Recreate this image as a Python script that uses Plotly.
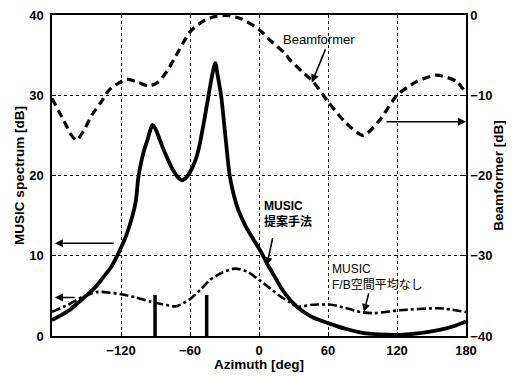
import plotly.graph_objects as go

# ---------------- data ----------------
music_az = [-180, -172, -165, -157, -148, -141, -135, -129, -124, -120, -115, -110, -107,
            -104.9, -102.5, -100.6, -97.1, -95, -92.8, -90, -86.1, -81.7, -76, -70, -67,
            -63, -60, -55, -52, -49, -46, -43.5, -41, -38, -36, -33, -30, -27.5, -25.5,
            -22, -18, -12, -6.4, 0, 3.5, 7, 12, 18, 22.6, 27, 33, 40, 47, 60, 75, 90,
            105, 122, 140, 157, 170, 180]
music_db = [2.0, 2.6, 3.2, 4.2, 5.3, 6.3, 7.4, 8.5, 9.8, 11.0, 12.7, 15.0, 16.9,
            19.8, 21.6, 22.8, 24.4, 25.4, 26.3, 25.8, 24.4, 22.8, 21.0, 19.7, 19.4,
            19.8, 20.4, 22.0, 23.6, 25.8, 28.2, 30.3, 32.3, 34.0, 32.5, 30.0, 26.0, 22.5, 20.0,
            17.6, 15.7, 13.8, 12.4, 10.9, 10.0, 9.0, 7.8, 6.3, 5.3, 4.5, 3.65, 2.9, 2.3, 1.6, 0.9, 0.4,
            0.2, 0.15, 0.35, 0.75, 1.25, 1.8]

nofb_az = [-180, -166, -153, -140, -130, -120, -107, -95, -84, -72, -60, -50, -42.6,
           -32, -21, -10, 0, 10, 20, 27, 33, 47, 63, 75, 88, 100, 122, 157, 180]
nofb_db = [3.0, 3.9, 4.9, 5.5, 5.4, 5.2, 4.8, 4.3, 3.95, 3.7, 4.6, 5.9, 7.0,
           7.9, 8.4, 8.0, 7.0, 5.9, 4.8, 4.2, 3.65, 3.9, 3.9, 3.5, 3.0, 2.85, 3.2, 3.45, 3.0]

beam_az = [-180, -170, -163, -158.6, -152, -145, -138, -130, -120, -115, -105, -96, -88,
           -80, -70, -60, -50, -40, -28, -15, 0, 10, 22.6, 27, 37, 47, 60, 76, 90.7,
           105, 120, 137, 154.5, 172, 180]
beam_db = [-10.4, -13.1, -15.0, -15.6, -14.3, -12.4, -11.0, -9.3, -8.3, -8.0, -8.4, -8.85, -8.4,
           -7.0, -4.5, -2.1, -0.9, -0.25, -0.05, -0.5, -1.8, -3.2, -4.8, -5.6, -7.0, -8.3, -10.8,
           -13.5, -15.0, -13.1, -10.0, -8.3, -7.5, -8.3, -9.8]

source_az = [-90.4, -45.5]
source_height = 5.1

x_ticks = [-120, -60, 0, 60, 120, 180]
y_ticks = [0, 10, 20, 30, 40]
y2_ticks = [0, -10, -20, -30, -40]

FONT = "Liberation Sans, Arial, sans-serif"
JP = "Liberation Sans, Noto Sans CJK JP"

fig = go.Figure()

# true source markers
sx, sy = [], []
for a in source_az:
    sx += [a, a, None]
    sy += [0, source_height, None]
fig.add_trace(go.Scatter(x=sx, y=sy, mode="lines",
                         line=dict(color="black", width=3.5), showlegend=False))

fig.add_trace(go.Scatter(x=nofb_az, y=nofb_db, mode="lines", line_shape="spline",
                         line=dict(color="black", width=2.6, dash="9px,3px,3px,3px", smoothing=0.7),
                         showlegend=False))
fig.add_trace(go.Scatter(x=music_az, y=music_db, mode="lines", line_shape="spline",
                         line=dict(color="black", width=3.8, smoothing=0.8), showlegend=False))
fig.add_trace(go.Scatter(x=beam_az, y=beam_db, mode="lines", line_shape="spline", yaxis="y2",
                         line=dict(color="black", width=3.2, dash="8px,5px", smoothing=0.7),
                         showlegend=False))

axis_common = dict(showline=True, linecolor="black", linewidth=1.5, ticks="inside",
                   ticklen=4, tickcolor="black", zeroline=False, automargin=False,
                   ticklabeloverflow="allow",
                   tickfont=dict(family=FONT, size=13, color="black", weight="bold"))
title_font = dict(family=FONT, size=13.5, color="black", weight="bold")

# the page body has an 8px default margin, so the figure is sized/margined to compensate
fig.update_layout(
    width=498, height=364,
    margin=dict(l=44, r=40, t=7, b=36),
    paper_bgcolor="white", plot_bgcolor="white",
    showlegend=False,
    xaxis=dict(range=[-180, 180], tickvals=x_ticks, mirror=True, ticklabelstandoff=2,
               showgrid=True, gridcolor="black", gridwidth=1, griddash="dot",
               title=dict(text="Azimuth [deg]", standoff=2, font=title_font),
               **axis_common),
    yaxis=dict(range=[0, 40], tickvals=y_ticks, mirror=True, ticklabelstandoff=4,
               showgrid=True, gridcolor="black", gridwidth=1, griddash="dot",
               title=dict(text="MUSIC spectrum [dB]", standoff=1, font=title_font),
               **axis_common),
    yaxis2=dict(range=[-40, 0], tickvals=y2_ticks, overlaying="y", side="right",
                showgrid=False, ticklabelstandoff=0,
                title=dict(text="Beamformer [dB]", standoff=8, font=title_font),
                **axis_common),
)

arrow = dict(showarrow=True, arrowhead=2, arrowsize=1, arrowwidth=1.6, arrowcolor="black",
             axref="x", ayref="y", xref="x", yref="y", text="")

# Beamformer label
fig.add_annotation(x=52, y=36.9, xref="x", yref="y", text="Beamformer", showarrow=False,
                   font=dict(family=FONT, size=13, color="black"))
fig.add_annotation(x=46, y=31.6, ax=58.3, ay=35.9, **arrow)
# arrow to right axis
fig.add_annotation(x=180, y=26.7, ax=109.6, ay=26.7, **arrow)
# left arrows
fig.add_annotation(x=-177.5, y=11.55, ax=-125, ay=11.55, **arrow)
fig.add_annotation(x=-177.5, y=4.8, ax=-159, ay=4.8, **arrow)

# MUSIC proposed
fig.add_annotation(x=2.6, y=15.2, xref="x", yref="y", xanchor="left",
                   text="MUSIC<br>提案手法", showarrow=False, align="left",
                   font=dict(family=JP, size=12, color="black", weight="bold"))
fig.add_annotation(x=6.7, y=8.8, ax=12.2, ay=12.4, **arrow)

# MUSIC without F/B
fig.add_annotation(x=61.7, y=7.3, xref="x", yref="y", xanchor="left",
                   text="MUSIC<br>F/B空間平均なし", showarrow=False, align="left",
                   font=dict(family=JP, size=12, color="black"))
fig.add_annotation(x=91.3, y=3.0, ax=95.7, ay=5.5, **arrow)

fig.write_html("out.html")
